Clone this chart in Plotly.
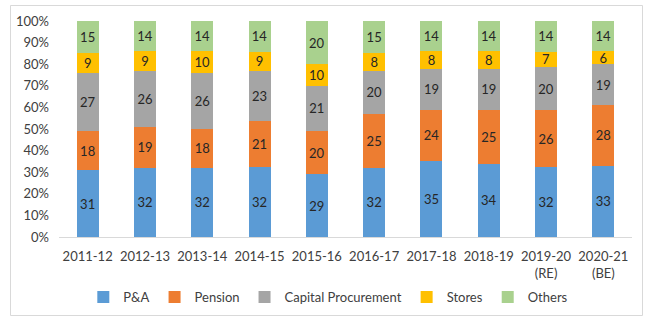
import plotly.graph_objects as go

years = ["2011-12", "2012-13", "2013-14", "2014-15", "2015-16", "2016-17",
         "2017-18", "2018-19", "2019-20<br>(RE)", "2020-21<br>(BE)"]
pa = [31, 32, 32, 32, 29, 32, 35, 34, 32, 33]
pension = [18, 19, 18, 21, 20, 25, 24, 25, 26, 28]
capital = [27, 26, 26, 23, 21, 20, 19, 19, 20, 19]
stores = [9, 9, 10, 9, 10, 8, 8, 8, 7, 6]
others = [15, 14, 14, 14, 20, 15, 14, 14, 14, 14]

series = [
    ("P&A", pa, "#5B9BD5"),
    ("Pension", pension, "#ED7D31"),
    ("Capital Procurement", capital, "#A5A5A5"),
    ("Stores", stores, "#FFC000"),
    ("Others", others, "#A9D18E"),
]

FONT = "Lato, Open Sans, sans-serif"
fig = go.Figure()
for name, vals, col in series:
    fig.add_trace(go.Bar(
        x=years, y=vals, name=name, marker=dict(color=col, line=dict(width=0)),
        text=[str(v) for v in vals], textposition="inside", insidetextanchor="middle",
        textfont=dict(color="#262626", size=13, family=FONT),
        textangle=0, constraintext="none", hoverinfo="skip",
    ))

W, H = 650, 324
ml, mr, mt, mb = 59, 18, 21, 87
pw, ph = W - ml - mr, H - mt - mb

def px(x):
    return (x - ml) / pw

def py(y):
    return (H - mb - y) / ph

fig.update_layout(
    width=W, height=H, barmode="stack", barnorm="percent", bargap=0.615,
    margin=dict(l=ml, r=mr, t=mt, b=mb),
    paper_bgcolor="white", plot_bgcolor="white",
    font=dict(family=FONT, size=13, color="#404040"),
    uniformtext=dict(minsize=8, mode="show"),
    showlegend=True,
    legend=dict(orientation="h", x=0.47, xanchor="center", y=py(297), yanchor="middle",
                font=dict(size=13, color="#404040", family=FONT),
                itemwidth=30, traceorder="normal", tracegroupgap=0),
    xaxis=dict(type="category", showline=True, linecolor="#D9D9D9", linewidth=1, ticks="",
               ticklabelstandoff=7,
               tickfont=dict(size=13, color="#404040"), showgrid=False),
    yaxis=dict(range=[0, 100], dtick=10, ticksuffix="%", showgrid=False,
               zeroline=False, showline=False, ticks="", ticklabelstandoff=9,
               tickfont=dict(size=13, color="#404040")),
    shapes=[dict(type="rect", xref="paper", yref="paper",
                 x0=px(10.5), x1=px(642.5), y0=py(315.5), y1=py(5.5),
                 line=dict(color="#D9D9D9", width=1), layer="below")],
)

fig.write_html("out.html")
